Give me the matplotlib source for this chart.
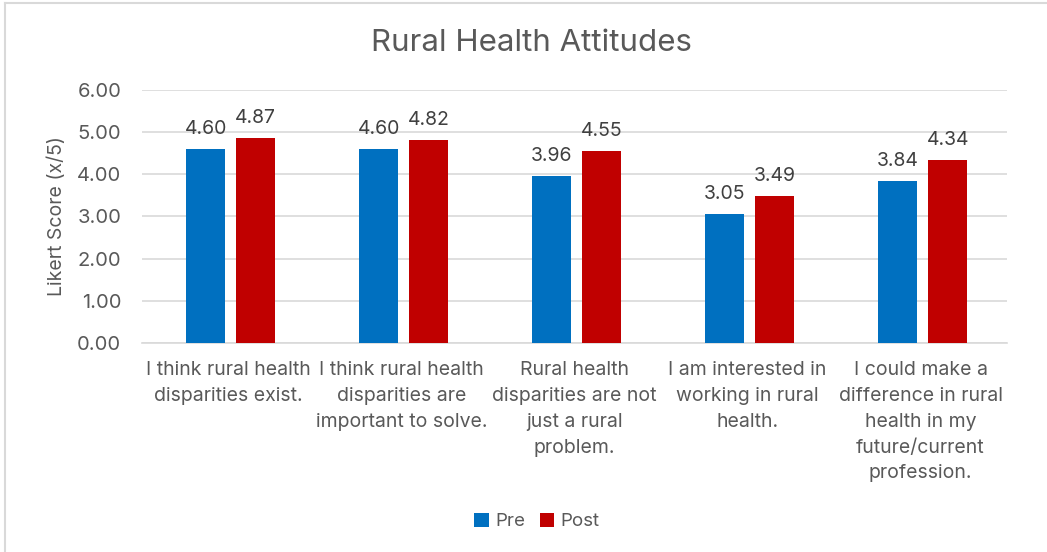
import numpy as np
import matplotlib
matplotlib.use("Agg")
import matplotlib.pyplot as plt
from matplotlib.lines import Line2D

plt.rcParams["font.family"] = ["Inter", "DejaVu Sans"]

categories = [
    "I think rural health\ndisparities exist.",
    "I think rural health\ndisparities are\nimportant to solve.",
    "Rural health\ndisparities are not\njust a rural\nproblem.",
    "I am interested in\nworking in rural\nhealth.",
    "I could make a\ndifference in rural\nhealth in my\nfuture/current\nprofession.",
]
pre = [4.60, 4.60, 3.96, 3.05, 3.84]
post = [4.87, 4.82, 4.55, 3.49, 4.34]

txt = "#595959"
fig = plt.figure(figsize=(10.47, 5.52), dpi=100)
ax = fig.add_axes([0.1356, 0.3786, 0.8262, 0.4584])

x = np.arange(len(categories))
w = 0.225
b1 = ax.bar(x - 0.132, pre, w, color="#0070C0", label="Pre", zorder=3)
b2 = ax.bar(x + 0.157, post, w, color="#C00000", label="Post", zorder=3)
for bars in (b1, b2):
    ax.bar_label(bars, fmt="%.2f", padding=8, fontsize=14, color="#404040")

ax.set_xlim(-0.5, len(categories) - 0.5)
ax.set_ylim(0, 6)
ax.set_yticks(np.arange(0, 7, 1))
ax.set_yticklabels([f"{v:.2f}" for v in np.arange(0, 7, 1)])
ax.yaxis.grid(True, color="#D9D9D9", linewidth=1.2, zorder=0)
ax.set_xticks(x)
ax.set_xticklabels(categories, linespacing=1.56)
ax.tick_params(axis="both", length=0, labelsize=14, labelcolor=txt)
ax.tick_params(axis="x", pad=13)
ax.tick_params(axis="y", labelsize=14.5, pad=15)
for s in ["top", "right", "left"]:
    ax.spines[s].set_visible(False)
ax.spines["bottom"].set_color("#D9D9D9")
ax.spines["bottom"].set_linewidth(1.2)

ax.set_ylabel("Likert Score (x/5)", fontsize=14, color=txt, labelpad=8)
fig.text(0.508, 0.922, "Rural Health Attitudes", ha="center", va="center",
         fontsize=22.5, color=txt)

fig.legend(loc="center", bbox_to_anchor=(0.513, 0.055), ncol=2, frameon=False,
           fontsize=13.5, labelcolor=txt, handlelength=0.75, handleheight=0.75,
           handletextpad=0.35, columnspacing=0.8)

# chart border (left and top edges visible in the screenshot)
fig.add_artist(Line2D([5 / 1047, 5 / 1047], [0, 1 - 3 / 552], color="#D9D9D9", lw=1.5))
fig.add_artist(Line2D([5 / 1047, 1], [1 - 3 / 552, 1 - 3 / 552], color="#D9D9D9", lw=1.5))

fig.savefig("out.png", dpi=100)
